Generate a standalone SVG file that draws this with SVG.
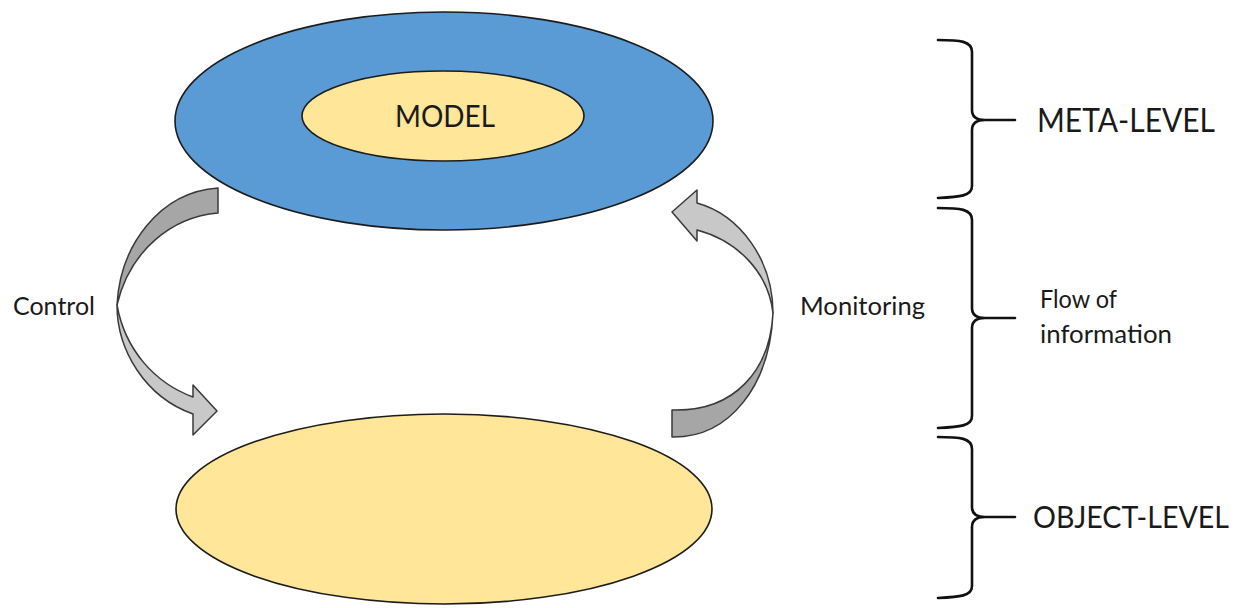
<svg xmlns="http://www.w3.org/2000/svg" width="1250" height="608" viewBox="0 0 1250 608">
  <style>
    .lbl { font-family: Lato, "Open Sans", "Liberation Sans", sans-serif; fill: #1a1a1a; }
    .big { font-size: 33px; }
    .small { font-size: 25px; }
    .ell { stroke: #1c1c1c; stroke-width: 1.6; }
    .blue { fill: #5b9bd5; }
    .yellow { fill: #ffe699; }
    .brace { fill: none; stroke: #111; stroke-width: 2.6; stroke-linejoin: round; stroke-linecap: round; }
    .arrow-back { fill: #a6a6a6; stroke: #3a3a3a; stroke-width: 1.5; stroke-linejoin: round; }
    .arrow-front { fill: #c8c8c8; stroke: #3a3a3a; stroke-width: 1.5; stroke-linejoin: round; }
  </style>

  <rect width="1250" height="608" fill="#ffffff"/>

  <!-- Meta-level: outer ring with the model inside -->
  <g id="meta-level">
    <ellipse class="ell blue" cx="444" cy="121" rx="269" ry="109"/>
    <ellipse class="ell yellow" cx="443" cy="116" rx="141" ry="45"/>
    <text class="lbl" x="445" y="127" text-anchor="middle" font-size="30" textLength="100" lengthAdjust="spacingAndGlyphs">MODEL</text>
  </g>

  <!-- Object-level -->
  <g id="object-level">
    <ellipse class="ell yellow" cx="444" cy="509" rx="268" ry="95"/>
  </g>

  <!-- Curved arrows between levels -->
  <g id="connectors">
    <g id="control-arrow">
      <path class="arrow-back" d="M218,188 L218,213 C172,217 130,250 117,305 C120,245 160,192 218,188 Z"/>
      <path class="arrow-front" d="M117,305 C117,350 145,397 193,414 L193,435 L217,411 L193,385 L193,397 C155,383 125,350 117,305 Z"/>
    </g>
    <g id="monitoring-arrow">
      <path class="arrow-back" d="M672,410 L672,437 C730,438 770,385 773,313 C770,370 735,412 672,410 Z"/>
      <path class="arrow-front" d="M773,313 C773,260 740,215 697,203 L697,190 L672,212 L697,241 L697,230 C735,240 768,270 773,313 Z"/>
    </g>
  </g>

  <!-- Arrow labels -->
  <g id="label-control">
    <text class="lbl small" x="13" y="315" textLength="82" lengthAdjust="spacingAndGlyphs">Control</text>
  </g>
  <g id="label-monitoring">
    <text class="lbl small" x="800" y="315" textLength="125" lengthAdjust="spacingAndGlyphs">Monitoring</text>
  </g>

  <!-- Braces on the right -->
  <g id="brace-meta">
    <path class="brace" d="M938,40 C960,40 972,41 972,52 L972,110 C972,117 977,120 985,120 L1015,120 M985,120 C977,120 972,123 972,130 L972,186 C972,196 960,197 938,198"/>
    <text class="lbl big" x="1037" y="132" textLength="178" lengthAdjust="spacingAndGlyphs">META-LEVEL</text>
  </g>
  <g id="brace-flow">
    <path class="brace" d="M938,208 C960,208 972,209 972,220 L972,308 C972,315 977,318 985,318 L1015,318 M985,318 C977,318 972,321 972,328 L972,416 C972,426 960,427 938,428"/>
    <text class="lbl small" x="1040" y="308" textLength="77" lengthAdjust="spacingAndGlyphs">Flow of</text>
    <text class="lbl small" x="1040" y="343" textLength="132" lengthAdjust="spacingAndGlyphs">information</text>
  </g>
  <g id="brace-object">
    <path class="brace" d="M938,437 C960,437 972,438 972,449 L972,507 C972,514 977,517 985,517 L1015,517 M985,517 C977,517 972,520 972,527 L972,586 C972,596 960,597 938,598"/>
    <text class="lbl" x="1033" y="528" font-size="31" textLength="196" lengthAdjust="spacingAndGlyphs">OBJECT-LEVEL</text>
  </g>
</svg>
